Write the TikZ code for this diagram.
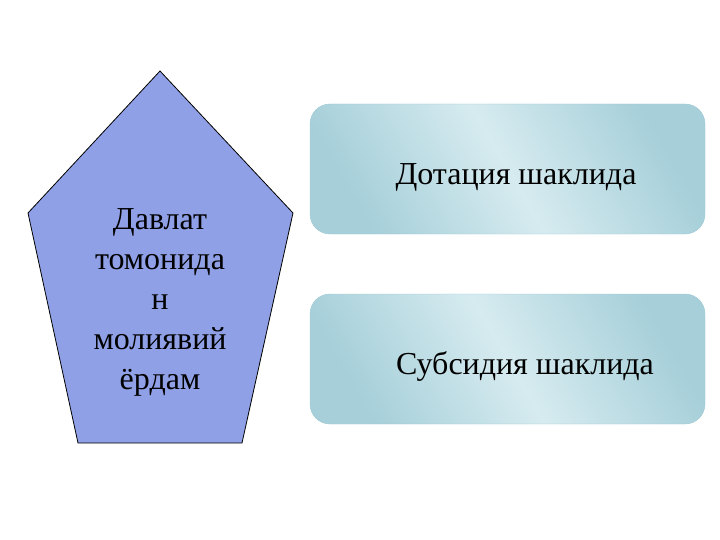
\documentclass[tikz,border=0pt]{standalone}
\usepackage{fontspec}
\setmainfont{Liberation Serif}
\usepackage{tikz}

\definecolor{penta}{HTML}{8FA0E6}
\definecolor{boxdark}{HTML}{A6CFD9}
\definecolor{boxlight}{HTML}{D6EBF0}
\definecolor{boxedge}{HTML}{9CC8D2}

\tikzset{
    infobox/.style={draw=boxedge, rounded corners=20pt, left color=boxdark, right color=boxdark, middle color=boxlight, shading angle=-60},
    boxtext/.style={font=\fontsize{32}{36}\selectfont, text=black}
}

\begin{document}
\begin{tikzpicture}[x=1pt,y=-1pt]
    
        \useasboundingbox (0,0) rectangle (720,540);
        %Pentagon
        \filldraw[draw=black, fill=penta, line width=0.8pt] (160,71) -- (293,213) -- (242,443) -- (78,443) -- (28,213) -- cycle;
        \node[boxtext, align=center, font=\fontsize{32}{40}\selectfont] (help) at (160,302) {Давлат\\томонида\\н\\молиявий\\ёрдам};
        
        %First box
        \shade[infobox] (310,104) rectangle (705,234);
        \node[boxtext] (dotation) at (516,177) {Дотация шаклида};
        
        %Second box
        \shade[infobox] (310,294) rectangle (705,424);
        \node[boxtext] (subsidy) at (525,366) {Субсидия шаклида};
        
        
    \end{tikzpicture}
\end{document}
